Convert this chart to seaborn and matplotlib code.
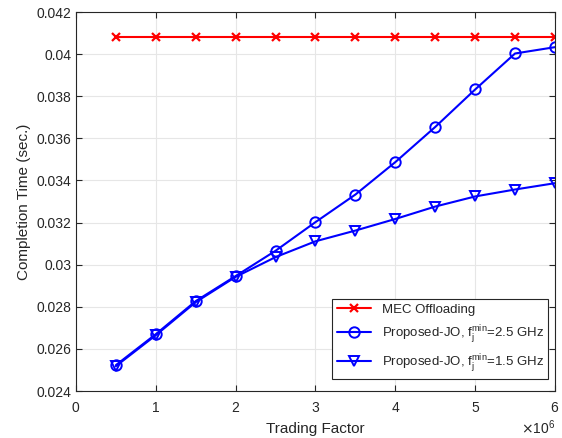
import numpy as np
import pandas as pd
import seaborn as sns
import matplotlib.pyplot as plt
from matplotlib.ticker import ScalarFormatter

# trading factor values
trading_factor = [0.5e6, 1.0e6, 1.5e6, 2.0e6, 2.5e6, 3.0e6,
                  3.5e6, 4.0e6, 4.5e6, 5.0e6, 5.5e6, 6.0e6]

mec_offloading = [0.04081] * 12
proposed_25 = [0.02523, 0.02670, 0.02827, 0.02946, 0.03066, 0.03202,
               0.03333, 0.03487, 0.03654, 0.03832, 0.04003, 0.04033]
proposed_15 = [0.02518, 0.02665, 0.02822, 0.02942, 0.03036, 0.03111,
               0.03162, 0.03217, 0.03276, 0.03324, 0.03357, 0.03387]

labels = ['MEC Offloading',
          r'Proposed-JO, $\mathregular{f_j^{min}}$=2.5 GHz',
          r'Proposed-JO, $\mathregular{f_j^{min}}$=1.5 GHz']

sns.set_style('whitegrid')
plt.rcParams['font.family'] = ['Liberation Sans', 'DejaVu Sans']

fig = plt.figure(figsize=(5.62, 4.38), dpi=100)
ax = fig.add_axes([0.1352, 0.1073, 0.8523, 0.8653])

sns.lineplot(x=trading_factor, y=mec_offloading, ax=ax, color='#ff0000',
             marker='x', markersize=6, markeredgecolor='#ff0000',
             markeredgewidth=1.6, linewidth=1.5, label=labels[0])
sns.lineplot(x=trading_factor, y=proposed_25, ax=ax, color='#0000ff',
             marker='o', markersize=7.5, markerfacecolor='none',
             markeredgecolor='#0000ff', markeredgewidth=1.4, linewidth=1.5,
             label=labels[1])
sns.lineplot(x=trading_factor, y=proposed_15, ax=ax, color='#0000ff',
             marker='v', markersize=7.5, markerfacecolor='none',
             markeredgecolor='#0000ff', markeredgewidth=1.4, linewidth=1.5,
             label=labels[2])

ax.set_xlim(0, 6e6)
ax.set_ylim(0.024, 0.042)
ax.set_xticks(np.arange(0, 6.5e6, 1e6))
ax.set_yticks(np.arange(0.024, 0.0421, 0.002))
ax.set_yticklabels(['0.024', '0.026', '0.028', '0.03', '0.032', '0.034',
                    '0.036', '0.038', '0.04', '0.042'])
fmt = ScalarFormatter(useMathText=True)
fmt.set_powerlimits((0, 0))
ax.xaxis.set_major_formatter(fmt)
ax.xaxis.get_offset_text().set_fontsize(10)
ax.xaxis.get_offset_text().set_color('#262626')

ax.grid(True, color='#e6e6e6', linewidth=0.8)
for s in ax.spines.values():
    s.set_color('#262626')
    s.set_linewidth(0.8)
ax.tick_params(direction='in', length=4, width=0.8, colors='#262626',
               labelsize=10, top=True, right=True, bottom=True, left=True)
ax.tick_params(axis='x', pad=7)

ax.set_xlabel('Trading Factor', fontsize=11, color='#262626', labelpad=5)
ax.set_ylabel('Completion Time (sec.)', fontsize=11, color='#262626')

leg = ax.legend(loc='lower right', fontsize=9.5, frameon=True, fancybox=False,
                edgecolor='#262626', framealpha=1, borderpad=0.35,
                handlelength=2.6, labelspacing=0.55,
                bbox_to_anchor=(1.0, 0.015))
leg.get_frame().set_linewidth(0.8)

plt.savefig('out.png', dpi=100)
plt.close()
